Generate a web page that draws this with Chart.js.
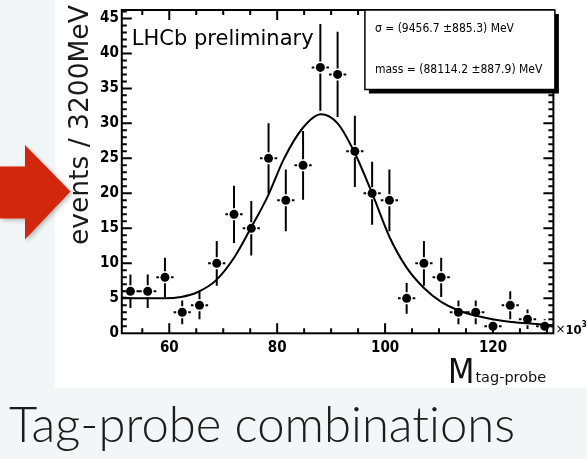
<!DOCTYPE html>
<html>
<head>
<meta charset="utf-8">
<script src="https://cdn.jsdelivr.net/npm/chart.js@4.4.1/dist/chart.umd.min.js"></script>
<style>
  html, body { margin: 0; padding: 0; }
  body { width: 587px; height: 459px; background: #f3f6f7; position: relative; overflow: hidden; }
  #sheet { position: absolute; left: 55px; top: 0; width: 532px; height: 388px; background: #fff; }
  #arrow { position: absolute; left: 0; top: 0; }
  #wrap { position: absolute; left: 0; top: 0; width: 587px; height: 459px; }
  #caption { position: absolute; left: 9px; top: 394px; line-height: 49px; white-space: nowrap;
             font: 300 49px Lato, 'Open Sans', sans-serif; color: #1c1c1c;
             font-variant-ligatures: none; font-feature-settings: "liga" 0; }
</style>
</head>
<body>
<div id="sheet"></div>
<svg id="arrow" width="90" height="260">
  <defs>
    <filter id="sh" x="-20%" y="-20%" width="140%" height="140%">
      <feDropShadow dx="2" dy="2" stdDeviation="2" flood-color="#000" flood-opacity="0.25"/>
    </filter>
  </defs>
  <polygon points="0,166.5 25,166.5 25,145 70.5,191.5 25,239.5 25,218.5 0,218.5" fill="#d2260b" filter="url(#sh)"/>
</svg>
<div id="wrap"><canvas id="chart"></canvas></div>
<div id="caption">Tag-probe combinations</div>
<script>
const ctx = document.getElementById('chart').getContext('2d');

// bin centres (GeV) and entries, bins of 3.2 GeV
const binCenters = [52.8, 56.0, 59.2, 62.4, 65.6, 68.8, 72.0, 75.2, 78.4, 81.6, 84.8, 88.0, 91.2,
                    94.4, 97.6, 100.8, 104.0, 107.2, 110.4, 113.6, 116.8, 120.0, 123.2, 126.4, 129.6];
const counts = [6, 6, 8, 3, 4, 10, 17, 15, 25, 19, 24, 38, 37, 26, 20, 19, 5, 10, 8, 3, 3, 1, 4, 2, 1];
const countErrors = [2.4, 2.4, 2.8, 1.7, 2.0, 3.2, 4.1, 3.9, 5.0, 4.4, 4.9, 6.2, 6.1, 5.1, 4.5, 4.4,
                     2.2, 3.2, 2.8, 1.7, 1.7, 1.0, 2.0, 1.4, 1.0];
const binHalfWidth = 1.6;

// fitted curve
const fitMass = [51.2, 55.0, 59.1, 62.2, 65.3, 68.7, 72.1, 75.1, 78.2, 81.3, 84.7, 88.1, 91.2,
                 94.3, 97.7, 100.8, 103.9, 107.3, 110.4, 113.5, 116.9, 119.9, 123.0, 126.4, 131.2];
const fitCurve = [5.1, 5.0, 5.0, 5.2, 5.9, 7.6, 10.9, 15.0, 19.5, 25.0, 29.3, 31.3, 30.0,
                  25.9, 19.8, 13.8, 9.5, 6.4, 4.5, 3.3, 2.5, 2.0, 1.66, 1.43, 1.14];

const xLabels = [60, 80, 100, 120];
const yLabels = [0, 5, 10, 15, 20, 25, 30, 35, 40, 45];
const fitText = ['\u03c3 = (9456.7 \u00b1885.3) MeV', 'mass = (88114.2 \u00b1887.9) MeV'];

const tickFont = {family: "'DejaVu Sans Condensed', 'DejaVu Sans'", weight: 'bold', size: 15};

// ROOT-like frame, inside ticks, error bars, texts
const rootStyle = {
  id: 'rootStyle',
  afterDatasetsDraw(chart) {
    const {ctx, chartArea: a, scales: {x, y}} = chart;
    ctx.save();
    ctx.strokeStyle = '#000';
    ctx.lineWidth = 2;

    // error bars with a small gap round the marker
    ctx.save();
    ctx.beginPath();
    ctx.rect(a.left, a.top, a.width, a.height);
    ctx.clip();
    const gap = 6;
    ctx.beginPath();
    binCenters.forEach((c, i) => {
      const px = x.getPixelForValue(c), py = y.getPixelForValue(counts[i]);
      const xl = x.getPixelForValue(c - binHalfWidth), xr = x.getPixelForValue(c + binHalfWidth);
      const yt = y.getPixelForValue(counts[i] + countErrors[i]);
      const yb = y.getPixelForValue(counts[i] - countErrors[i]);
      ctx.moveTo(xl, py); ctx.lineTo(px - gap, py);
      ctx.moveTo(px + gap, py); ctx.lineTo(xr, py);
      if (py - yt > gap) {
        ctx.moveTo(px, yt); ctx.lineTo(px, py - gap);
        ctx.moveTo(px, py + gap); ctx.lineTo(px, yb);
      }
    });
    ctx.stroke();
    ctx.restore();

    // frame
    ctx.strokeRect(a.left, a.top, a.width, a.height);

    // ticks
    ctx.beginPath();
    for (let v = 55; v <= 130; v += 5) {
      const px = x.getPixelForValue(v);
      const len = v % 20 === 0 ? 10 : 5;
      ctx.moveTo(px, a.bottom); ctx.lineTo(px, a.bottom - len);
      ctx.moveTo(px, a.top); ctx.lineTo(px, a.top + len);
    }
    for (let v = 1; v <= 46; v++) {
      const py = y.getPixelForValue(v);
      const len = v % 5 === 0 ? 10 : 5;
      ctx.moveTo(a.left, py); ctx.lineTo(a.left + len, py);
      ctx.moveTo(a.right, py); ctx.lineTo(a.right - len, py);
    }
    ctx.stroke();

    ctx.fillStyle = '#000';
    ctx.textBaseline = 'alphabetic';
    ctx.textAlign = 'left';

    // LHCb preliminary
    ctx.font = "21px 'DejaVu Sans'";
    ctx.fillText('LHCb preliminary', a.left + 10, a.top + 35);

    // y title
    ctx.save();
    ctx.translate(88, 245);
    ctx.rotate(-Math.PI / 2);
    ctx.font = "26.5px 'DejaVu Sans'";
    ctx.fillStyle = '#1a1a1a';
    ctx.fillText('events / 3200MeV', 0, 0);
    ctx.restore();

    // x title
    ctx.fillStyle = '#111';
    ctx.font = "34px 'Liberation Sans Narrow', 'DejaVu Sans Condensed'";
    ctx.fillText('M', 448, 383);
    const mW = ctx.measureText('M').width;
    ctx.font = "14.5px 'DejaVu Sans'";
    ctx.fillText('tag-probe', 448 + mW + 1, 382);

    // x10^3
    ctx.fillStyle = '#000';
    ctx.font = "12px 'DejaVu Sans'";
    ctx.fillText('\u00d7', a.right + 2, 333);
    let px = a.right + 2 + ctx.measureText('\u00d7').width;
    ctx.font = "bold 13px 'DejaVu Sans Condensed'";
    ctx.fillText('10', px, 334);
    px += ctx.measureText('10').width;
    ctx.font = "bold 8px 'DejaVu Sans Condensed'";
    ctx.fillText('3', px, 327);

    // fit results box
    const bw = 190, bh = 79.5;
    const bx = a.right + 1.5 - bw, by = a.top;
    ctx.fillRect(bx + 4, by + 4, bw, bh);
    ctx.fillStyle = '#fff';
    ctx.fillRect(bx, by, bw, bh);
    ctx.lineWidth = 1.5;
    ctx.strokeRect(bx, by, bw, bh);
    ctx.fillStyle = '#000';
    ctx.font = "12px 'DejaVu Sans Condensed'";
    ctx.textBaseline = 'middle';
    ctx.fillText(fitText[0], bx + 10, by + 19);
    ctx.fillText(fitText[1], bx + 10, by + 60);
    ctx.restore();
  }
};

const data = {
  datasets: [
    {
      label: 'fit',
      data: fitMass.map((m, i) => ({x: m, y: fitCurve[i]})),
      showLine: true,
      borderColor: '#000',
      borderWidth: 2,
      pointRadius: 0,
      cubicInterpolationMode: 'monotone',
    },
    {
      label: 'data',
      data: binCenters.map((c, i) => ({x: c, y: counts[i]})),
      backgroundColor: '#000',
      borderColor: '#000',
      pointRadius: 4.5,
      pointBorderWidth: 0,
    },
  ],
};

const config = {
  type: 'scatter',
  data: data,
  options: {
    responsive: true,
    maintainAspectRatio: false,
    animation: false,
    layout: {padding: {left: 0, top: 10, right: 33.6, bottom: 85.7}},
    plugins: {legend: {display: false}, tooltip: {enabled: false}},
    scales: {
      x: {
        type: 'linear', min: 51.2, max: 131.2,
        afterBuildTicks: s => { s.ticks = xLabels.map(v => ({value: v})); },
        afterFit: s => { s.height = 40; s.paddingLeft = 0; s.paddingRight = 0; },
        grid: {display: false, drawTicks: false},
        border: {display: false},
        ticks: {padding: 6, color: '#000', font: tickFont, maxRotation: 0, autoSkip: false},
      },
      y: {
        min: 0, max: 46.2,
        afterBuildTicks: s => { s.ticks = yLabels.map(v => ({value: v})); },
        afterFit: s => { s.width = 121.8; s.paddingTop = 0; s.paddingBottom = 0; },
        grid: {display: false, drawTicks: false},
        border: {display: false},
        ticks: {padding: 3, color: '#000', font: tickFont, autoSkip: false},
      },
    },
  },
  plugins: [rootStyle],
};

const myChart = new Chart(ctx, config);
</script>
</body>
</html>
